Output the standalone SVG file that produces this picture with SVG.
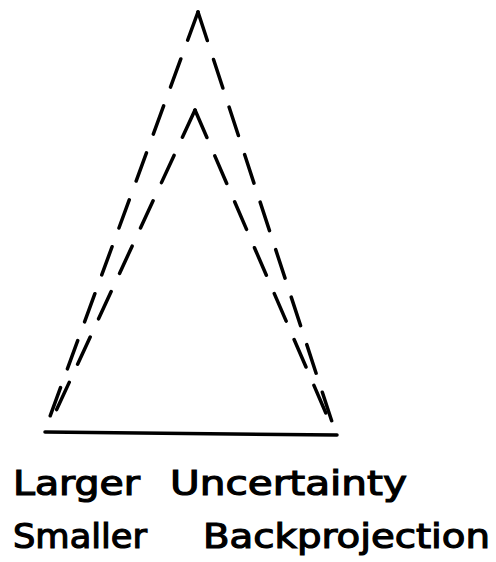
<svg xmlns="http://www.w3.org/2000/svg" width="496" height="562" viewBox="0 0 496 562">
<style>
.d{fill:none;stroke:#000;stroke-width:3.5;stroke-linecap:round;stroke-dasharray:30 20}
.s{fill:none;stroke:#000;stroke-width:3.5;stroke-linecap:round}
.t{font-family:"DejaVu Sans",sans-serif;font-size:34px;fill:#000;stroke:#000;stroke-width:1.2}
</style>
<rect width="496" height="562" fill="#fff"/>
<g id="connectors">
<path class="d" d="M198 12 L45 430"/>
<path class="d" d="M198 12 L336 434"/>
<path class="d" d="M195 110 L50 424"/>
<path class="d" d="M195 110 L328 418"/>
<path class="s" d="M45 432 L337 435"/>
</g>
<g id="labels">
<text class="t" x="13" y="495" textLength="127" lengthAdjust="spacingAndGlyphs">Larger</text>
<text class="t" x="170" y="495" textLength="237" lengthAdjust="spacingAndGlyphs">Uncertainty</text>
<text class="t" x="13" y="548" textLength="134" lengthAdjust="spacingAndGlyphs">Smaller</text>
<text class="t" x="203" y="548" textLength="287" lengthAdjust="spacingAndGlyphs">Backprojection</text>
</g>
</svg>
